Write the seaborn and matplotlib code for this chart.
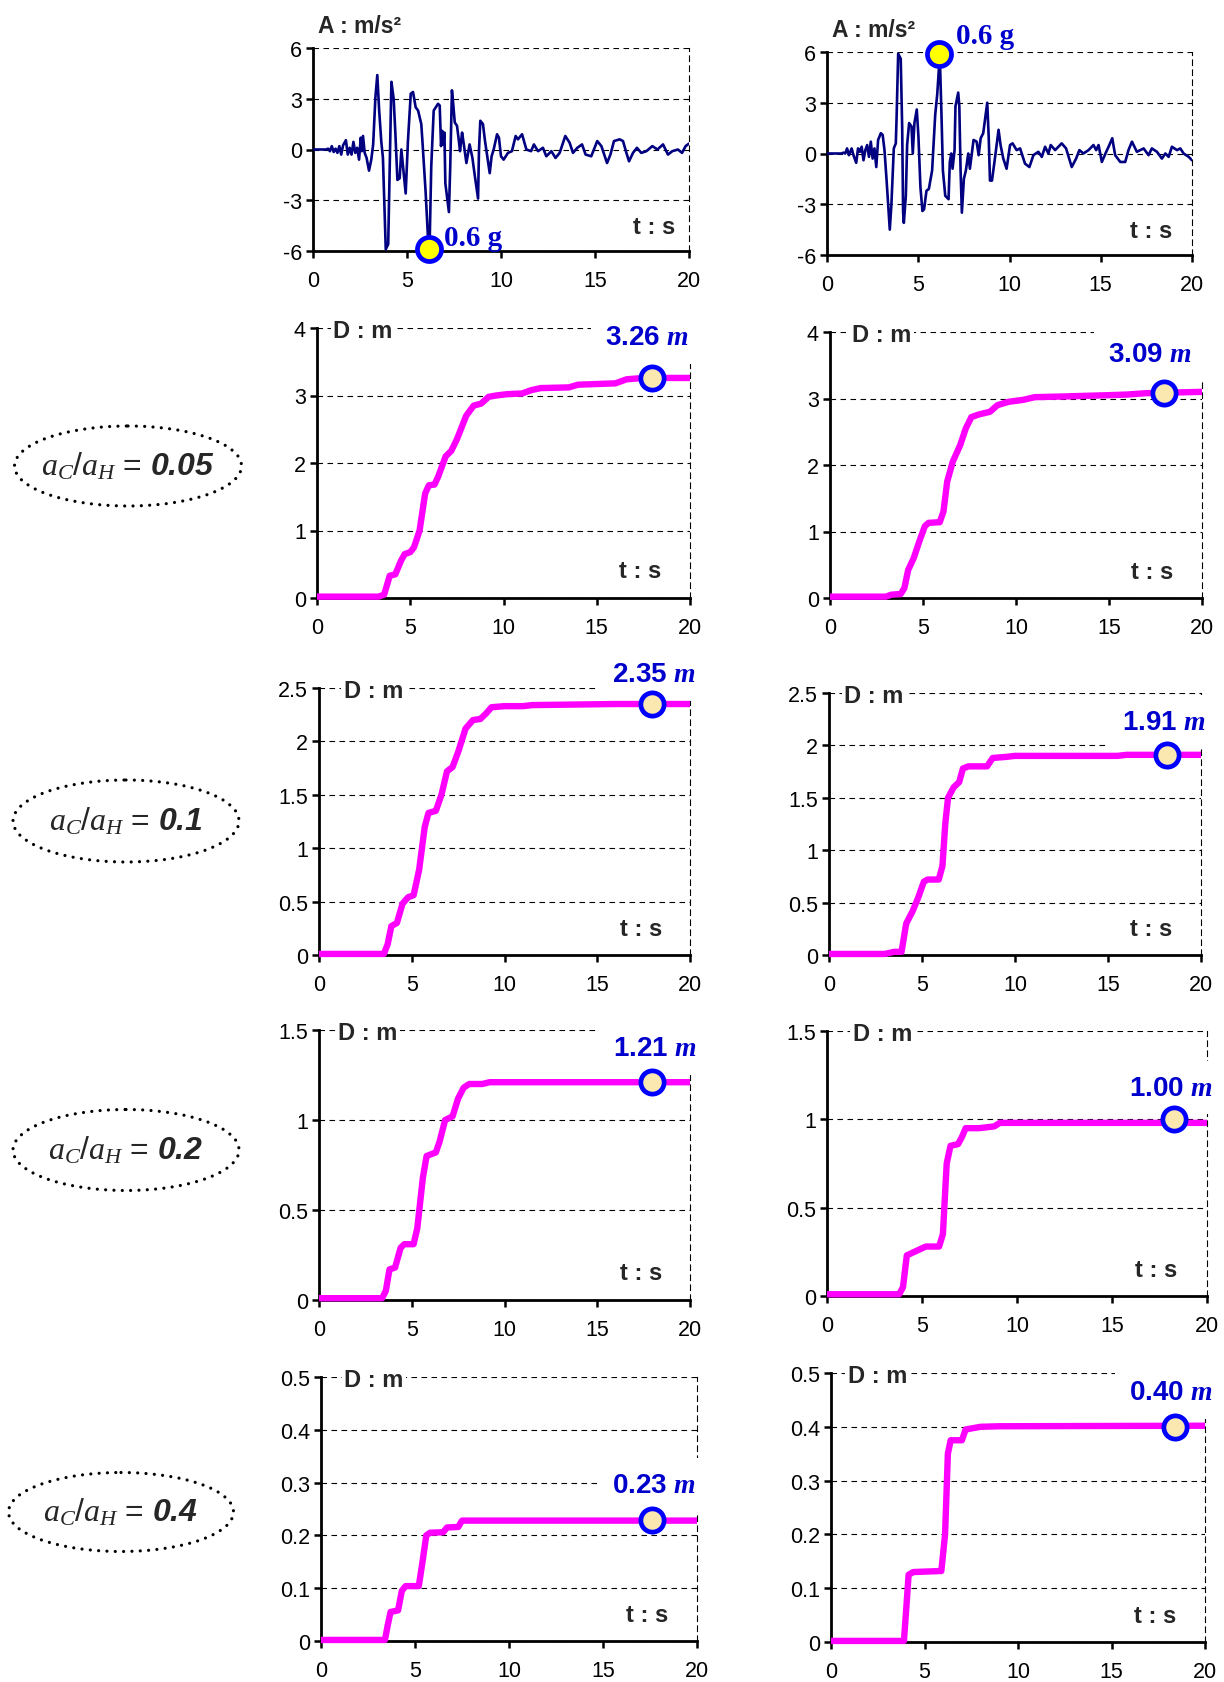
import matplotlib
matplotlib.use("Agg")
import matplotlib.pyplot as plt
from matplotlib.patches import Ellipse
from matplotlib.ticker import MultipleLocator, FuncFormatter
import pandas as pd
import seaborn as sns

# ---------------- values ----------------
# ground acceleration records (t [s], A [m/s2])
acc_left = [(0, 0), (0.7, 0.0), (0.8, 0.05), (0.9, -0.1), (1.0, 0.2), (1.1, -0.15), (1.2, 0.05),
            (1.3, -0.2), (1.4, 0.2), (1.5, -0.3), (1.6, 0.25), (1.75, 0.55), (1.85, -0.3),
            (1.95, 0.1), (2.05, -0.3), (2.15, 0.45), (2.25, -0.2), (2.35, 0.1), (2.45, -0.6),
            (2.54, 0.7), (2.6, -0.1), (2.66, 0.8), (2.75, -0.2), (2.85, -0.5), (2.98, -1.25),
            (3.1, -0.6), (3.2, 0.3), (3.32, 3.1), (3.42, 4.4), (3.52, 2.3), (3.63, 0.5),
            (3.72, -0.5), (3.87, -5.9), (4.0, -5.6), (4.08, -1.0), (4.17, 4.0), (4.29, 3.0),
            (4.38, 1.0), (4.49, -1.8), (4.61, -1.7), (4.70, 0.0), (4.79, -1.0), (4.93, -2.6),
            (5.05, 0.5), (5.2, 3.3), (5.32, 3.4), (5.46, 2.5), (5.59, 2.3), (5.76, 1.5),
            (5.82, 0.5), (5.99, -2.5), (6.12, -5.3), (6.2, -5.8), (6.29, -1.0), (6.42, 2.3),
            (6.65, 2.7), (6.74, 2.6), (6.81, 0.2), (6.88, 1.1), (6.93, 0.3), (6.99, 1.0),
            (7.04, -2.0), (7.15, -3.0), (7.23, -3.7), (7.3, -1.0), (7.39, 3.5), (7.45, 2.8),
            (7.54, 1.6), (7.66, 1.4), (7.75, 0.6), (7.82, -0.1), (7.93, 1.0), (8.01, 0.4),
            (8.16, -0.8), (8.33, 0.3), (8.48, -0.5), (8.6, -1.5), (8.78, -2.9), (8.83, 0.0),
            (8.9, 1.7), (9.04, 1.5), (9.15, 0.5), (9.31, -0.7), (9.4, -1.4), (9.5, -0.4),
            (9.61, 0.0), (9.79, 0.9), (9.89, 0.7), (10.0, -0.4), (10.14, -0.6), (10.37, -0.2),
            (10.58, -0.1), (10.78, 0.8), (10.9, 0.6), (11.12, 0.9), (11.22, 0.5), (11.35, 0.0),
            (11.6, -0.1), (11.75, 0.3), (11.97, -0.1), (12.23, 0.1), (12.41, -0.4), (12.68, -0.1),
            (12.9, -0.5), (13.12, -0.2), (13.42, 0.8), (13.65, 0.4), (13.83, -0.2), (14.06, 0.1),
            (14.31, 0.3), (14.5, -0.3), (14.8, -0.4), (15.12, 0.5), (15.34, 0.2), (15.64, -0.8),
            (15.82, -0.3), (16.01, 0.5), (16.31, 0.6), (16.49, 0.5), (16.67, -0.2), (16.81, -0.7),
            (17.02, -0.2), (17.23, 0.1), (17.46, -0.2), (17.73, -0.1), (18.05, 0.2), (18.32, 0.0),
            (18.62, 0.3), (18.88, -0.3), (19.11, -0.1), (19.41, 0.0), (19.63, -0.2), (19.82, 0.2),
            (20.0, 0.35)]

acc_right = [(0, 0), (0.8, 0.0), (0.9, 0.05), (1.0, 0.0), (1.1, 0.3), (1.2, -0.1), (1.35, 0.3),
             (1.45, -0.1), (1.6, -0.55), (1.7, 0.3), (1.8, 0.1), (1.9, 0.4), (2.0, -0.4),
             (2.1, 0.2), (2.2, 0.5), (2.3, -0.2), (2.4, 0.7), (2.5, -0.3), (2.6, 0.3), (2.7, -0.8),
             (2.8, 0.8), (2.95, 1.2), (3.05, 1.1), (3.15, 0.2), (3.26, -1.5), (3.44, -4.5),
             (3.53, -3.0), (3.66, 0.3), (3.77, 0.6), (3.81, 2.0), (3.9, 5.9), (4.04, 5.6),
             (4.12, 1.5), (4.17, -3.5), (4.21, -4.1), (4.32, -2.5), (4.39, 0.5), (4.5, 1.8),
             (4.63, 1.6), (4.7, 0.0), (4.79, 1.8), (4.92, 2.6), (5.01, 1.0), (5.12, -2.0),
             (5.23, -3.4), (5.32, -3.3), (5.45, -2.2), (5.58, -2.1), (5.76, -1.0), (5.84, 0.5),
             (5.93, 2.3), (6.04, 3.5), (6.18, 5.8), (6.28, 2.0), (6.35, -1.0), (6.48, -2.5),
             (6.66, -2.7), (6.73, -0.5), (6.81, 0.0), (6.88, -0.9), (6.99, 0.2), (7.04, 2.8),
             (7.19, 3.6), (7.25, 2.8), (7.32, -1.0), (7.39, -3.5), (7.5, -1.5), (7.61, -1.0),
             (7.74, 0.0), (7.83, -0.9), (8.03, 0.8), (8.2, 0.7), (8.31, -0.1), (8.42, 0.9),
             (8.56, 1.2), (8.78, 3.0), (8.86, 1.0), (8.93, -1.6), (9.04, -1.6), (9.2, -0.3),
             (9.4, 1.4), (9.51, 0.5), (9.66, -0.3), (9.84, -0.9), (10.03, 0.5), (10.17, 0.6),
             (10.39, 0.2), (10.58, 0.3), (10.85, -0.6), (11.09, -0.8), (11.31, -0.1), (11.58, 0.1),
             (11.77, -0.2), (11.95, 0.4), (12.13, 0.0), (12.26, 0.5), (12.5, 0.2), (12.86, 0.6),
             (13.1, 0.3), (13.41, -0.8), (13.65, -0.3), (13.83, 0.2), (14.05, 0.0), (14.33, 0.2),
             (14.6, 0.5), (14.75, 0.2), (14.88, 0.5), (15.06, -0.5), (15.3, 0.1), (15.43, 0.4),
             (15.63, 0.9), (15.79, -0.1), (16.07, -0.5), (16.34, -0.5), (16.52, 0.2), (16.71, 0.7),
             (16.98, 0.1), (17.35, 0.3), (17.62, -0.1), (17.8, 0.3), (18.08, 0.1), (18.35, -0.3),
             (18.54, 0.0), (18.72, -0.2), (18.9, 0.4), (19.18, 0.2), (19.36, 0.3), (19.54, 0.0),
             (19.82, -0.2), (20.0, -0.4)]

acc_peak_left = (6.15, -5.9)
acc_peak_right = (6.13, 5.9)
acc_peak_text = "0.6 g"

ratios = ["0.05", "0.1", "0.2", "0.4"]

# sliding displacement (t [s], D [m])
disp_left_1 = [(0, 0.02), (3.3, 0.02), (3.6, 0.05), (3.9, 0.33), (4.2, 0.35), (4.5, 0.55), (4.7, 0.65),
               (5.0, 0.68), (5.2, 0.75), (5.5, 1.0), (5.8, 1.55), (6.0, 1.67), (6.3, 1.68), (6.5, 1.8),
               (6.9, 2.1), (7.2, 2.18), (7.5, 2.35), (8.0, 2.7), (8.4, 2.85), (8.8, 2.88), (9.2, 2.98),
               (9.6, 3.0), (10.2, 3.02), (11.0, 3.03), (11.5, 3.08), (12.0, 3.11), (13.5, 3.12),
               (14.0, 3.16), (16.0, 3.18), (16.6, 3.24), (17.5, 3.26), (20, 3.26)]
disp_right_1 = [(0, 0.02), (3.0, 0.02), (3.3, 0.05), (3.8, 0.06), (4.0, 0.15), (4.2, 0.42), (4.5, 0.6),
                (4.8, 0.85), (5.1, 1.08), (5.3, 1.13), (5.9, 1.14), (6.1, 1.3), (6.3, 1.75), (6.6, 2.05),
                (7.0, 2.3), (7.3, 2.55), (7.6, 2.72), (8.0, 2.76), (8.6, 2.8), (9.0, 2.9), (9.6, 2.95),
                (10.4, 2.98), (11.0, 3.02), (12.5, 3.03), (15.0, 3.05), (16.0, 3.06), (17.0, 3.08),
                (20, 3.1)]
disp_left_2 = [(0, 0.01), (3.5, 0.01), (3.7, 0.1), (3.9, 0.27), (4.2, 0.3), (4.5, 0.48), (4.8, 0.54),
               (5.1, 0.56), (5.4, 0.8), (5.7, 1.2), (5.9, 1.33), (6.3, 1.35), (6.6, 1.5), (6.9, 1.72),
               (7.2, 1.76), (7.5, 1.9), (7.9, 2.12), (8.3, 2.2), (8.7, 2.21), (9.0, 2.26), (9.3, 2.32),
               (10.0, 2.33), (11.0, 2.33), (11.5, 2.34), (16.0, 2.35), (20, 2.35)]
disp_right_2 = [(0, 0.01), (3.0, 0.01), (3.5, 0.03), (3.9, 0.03), (4.15, 0.3), (4.5, 0.42), (4.8, 0.55),
                (5.1, 0.7), (5.3, 0.72), (5.9, 0.72), (6.1, 0.85), (6.25, 1.25), (6.4, 1.5), (6.7, 1.6),
                (7.0, 1.65), (7.2, 1.78), (7.5, 1.8), (8.5, 1.8), (8.8, 1.88), (9.5, 1.89), (10.0, 1.9),
                (15.5, 1.9), (16.0, 1.91), (20, 1.91)]
disp_left_3 = [(0, 0.01), (3.4, 0.01), (3.6, 0.05), (3.8, 0.17), (4.1, 0.18), (4.4, 0.29), (4.6, 0.31),
               (5.1, 0.31), (5.3, 0.4), (5.6, 0.68), (5.8, 0.8), (6.3, 0.82), (6.5, 0.88), (6.8, 1.0),
               (7.2, 1.02), (7.5, 1.12), (7.8, 1.18), (8.1, 1.2), (8.8, 1.2), (9.2, 1.21), (20, 1.21)]
disp_right_3 = [(0, 0.01), (3.8, 0.01), (4.0, 0.05), (4.2, 0.23), (4.6, 0.25), (5.0, 0.27), (5.2, 0.28),
                (5.9, 0.28), (6.1, 0.35), (6.3, 0.75), (6.5, 0.85), (6.9, 0.86), (7.1, 0.9), (7.3, 0.95),
                (8.0, 0.95), (8.8, 0.96), (9.1, 0.98), (20, 0.98)]
disp_left_4 = [(0, 0.002), (3.4, 0.002), (3.55, 0.03), (3.7, 0.055), (4.1, 0.058), (4.3, 0.095),
               (4.5, 0.104), (5.2, 0.104), (5.4, 0.15), (5.6, 0.2), (5.8, 0.205), (6.5, 0.206),
               (6.7, 0.215), (7.3, 0.216), (7.5, 0.228), (20, 0.228)]
disp_right_4 = [(0, 0.002), (3.9, 0.002), (4.0, 0.05), (4.15, 0.125), (4.4, 0.13), (5.9, 0.132),
                (6.1, 0.2), (6.25, 0.35), (6.4, 0.375), (7.0, 0.375), (7.2, 0.395), (8.0, 0.4),
                (9.0, 0.401), (20, 0.402)]

final_left = [3.26, 2.35, 1.21, 0.23]
final_right = [3.09, 1.91, 1.00, 0.40]
final_t_left = [17.95, 17.93, 17.93, 17.62]
final_t_right = [17.94, 18.17, 18.26, 18.38]
d_ymax = [4, 2.5, 1.5, 0.5]
d_ystep = [1, 0.5, 0.5, 0.1]

# ---------------- layout (pixels of the 1224x1683 page) ----------------
W, H = 1224, 1683
boxes = [  # left, right, top, bottom
    [(313, 689, 49, 252), (827, 1192, 53, 256)],
    [(317, 690, 329, 599), (830, 1202, 333, 599)],
    [(319, 690, 689, 956), (829, 1201, 694, 956)],
    [(319, 690, 1031, 1301), (827, 1207, 1032, 1297)],
    [(321, 697, 1378, 1642), (831, 1205, 1374, 1643)],
]
dlabel_x = [[0.043, 0.06], [0.067, 0.04], [0.052, 0.068], [0.061, 0.045]]
value_xy = [[(17.7, 3.87), (17.2, 3.67)], [(18.06, 2.63), (18.0, 2.22)],
            [(18.1, 1.40), (18.1, 1.18)], [(17.7, 0.296), (18.2, 0.465)]]
peak_text_xy = [(6.95, -5.2), (7.05, 6.95)]
ellipses = [(128, 467, 227, 80), (126, 822, 226, 82), (126, 1151, 226, 81), (121, 1513, 225, 79)]

BLUE = "#0000CC"
NAVY = "#000080"
MAGENTA = "#FF00FF"

sns.set_style("white")
plt.rcParams["font.family"] = ["Liberation Sans", "DejaVu Sans"]
plt.rcParams["axes.unicode_minus"] = False
plt.rcParams["mathtext.fontset"] = "custom"
plt.rcParams["mathtext.rm"] = "Liberation Sans"
plt.rcParams["mathtext.it"] = "Liberation Serif:italic"
plt.rcParams["mathtext.bf"] = "Liberation Sans:bold:italic"
plt.rcParams["mathtext.sf"] = "Liberation Serif:bold:italic"

fig = plt.figure(figsize=(W / 100, H / 100), dpi=100)


def add_panel(box):
    l, r, t, b = box
    return fig.add_axes([l / W, 1 - b / H, (r - l) / W, (b - t) / H])


def style_axes(ax, ymin, ymax, ystep):
    ax.set_xlim(0, 20)
    ax.set_ylim(ymin, ymax)
    ax.xaxis.set_major_locator(MultipleLocator(5))
    ax.yaxis.set_major_locator(MultipleLocator(ystep))
    ax.yaxis.set_major_formatter(FuncFormatter(lambda v, p: f"{round(v, 3):g}"))
    ax.grid(False)
    ax.yaxis.grid(True, color="black", linestyle=(0, (5, 4)), linewidth=0.8)
    ax.set_axisbelow(True)
    for s in ("left", "bottom"):
        ax.spines[s].set_color("black")
        ax.spines[s].set_linewidth(2.0)
    ax.spines["top"].set_visible(False)
    ax.spines["right"].set_color("black")
    ax.spines["right"].set_linewidth(0.8)
    ax.spines["right"].set_linestyle((0, (5, 4)))
    ax.tick_params(direction="out", length=5, width=1.8, labelsize=15.5,
                   colors="black", left=True, bottom=True)
    ax.tick_params(axis="x", pad=9)
    ax.tick_params(axis="y", pad=3)
    ax.set_xlabel("")
    ax.set_ylabel("")


# ---- acceleration records ----
for col, (rec, peak, txy) in enumerate([(acc_left, acc_peak_left, peak_text_xy[0]),
                                         (acc_right, acc_peak_right, peak_text_xy[1])]):
    ax = add_panel(boxes[0][col])
    df = pd.DataFrame(rec, columns=["t", "a"])
    sns.lineplot(data=df, x="t", y="a", ax=ax, color=NAVY, linewidth=1.9,
                 estimator=None, sort=False, zorder=3)
    sns.scatterplot(x=[peak[0]], y=[peak[1]], ax=ax, s=300, color="#FFFF00",
                    edgecolor="#0000FF", linewidth=3.4, zorder=6, clip_on=False)
    style_axes(ax, -6, 6, 3)
    ax.text(txy[0], txy[1], acc_peak_text, color=BLUE, fontsize=21, fontweight="bold",
            family=["Liberation Serif"], ha="left", va="center", clip_on=False)
    ax.text(0.013, 1.11, "A : m/s²", transform=ax.transAxes, fontsize=16.5,
            fontweight="bold", ha="left", va="center")
    ax.text(0.83 if col else 0.85, 0.12, "t : s", transform=ax.transAxes,
            fontsize=17, fontweight="bold", ha="left", va="center")

# ---- sliding displacements ----
disp = [[disp_left_1, disp_right_1], [disp_left_2, disp_right_2],
        [disp_left_3, disp_right_3], [disp_left_4, disp_right_4]]
finals = [final_left, final_right]
final_ts = [final_t_left, final_t_right]

for row in range(4):
    for col in range(2):
        ax = add_panel(boxes[row + 1][col])
        df = pd.DataFrame(disp[row][col], columns=["t", "D"])
        sns.lineplot(data=df, x="t", y="D", ax=ax, color=MAGENTA, linewidth=4.6,
                     estimator=None, sort=False, zorder=5, clip_on=False,
                     solid_capstyle="butt", solid_joinstyle="round")
        v = finals[col][row]
        sns.scatterplot(x=[final_ts[col][row]], y=[v], ax=ax, s=280, color="#FBE7B0",
                        edgecolor="#0000FF", linewidth=3.4, zorder=7, clip_on=False)
        style_axes(ax, 0, d_ymax[row], d_ystep[row])
        vx, vy = value_xy[row][col]
        ax.text(vx, vy, f"{v:.2f} " + r"$\mathsf{m}$", color=BLUE, fontsize=20,
                fontweight="bold", ha="center", va="center", clip_on=False, zorder=4,
                bbox=dict(boxstyle="square,pad=0.5", facecolor="white", edgecolor="none"))
        ax.text(dlabel_x[row][col], 0.99, "D : m", transform=ax.transAxes, fontsize=17,
                fontweight="bold", ha="left", va="center", zorder=4,
                bbox=dict(boxstyle="square,pad=0.1", facecolor="white", edgecolor="none"))
        ax.text(0.81, 0.1, "t : s", transform=ax.transAxes, fontsize=17,
                fontweight="bold", ha="left", va="center")

# ---- ratio labels in dotted ellipses ----
lab = fig.add_axes([0, 0, 1, 1])
lab.set_xlim(0, W)
lab.set_ylim(H, 0)
lab.axis("off")
for (cx, cy, w, h), r in zip(ellipses, ratios):
    lab.add_patch(Ellipse((cx, cy), w, h, fill=False, edgecolor="black", linewidth=2.3,
                          linestyle=(0, (0.01, 2.6)), capstyle="round"))
    lab.text(cx, cy, r"$a_C/a_H\,=\,\mathbf{" + r + "}$", fontsize=23,
             ha="center", va="center")

fig.savefig("out.png", dpi=100)
